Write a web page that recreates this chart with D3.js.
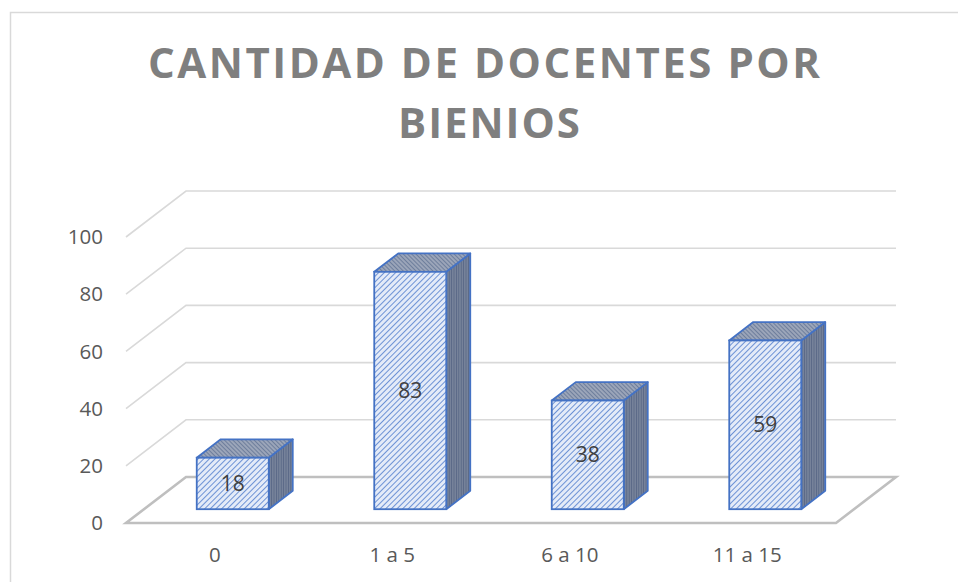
<!DOCTYPE html>
<html lang="es">
<head>
<meta charset="UTF-8">
<title>Cantidad de docentes por bienios</title>
<script src="https://cdn.jsdelivr.net/npm/d3@7"></script>
<style>
  body { margin: 0; background: #fff; }
  text { font-family: "Open Sans", sans-serif; }
</style>
</head>
<body>
<svg id="chart" width="958" height="582"></svg>
<script>
// data
var categories = ["0", "1 a 5", "6 a 10", "11 a 15"];
var values = [18, 83, 38, 59];
var yTicks = [0, 20, 40, 60, 80, 100];
var titleLines = ["CANTIDAD DE DOCENTES POR", "BIENIOS"];

var svg = d3.select("#chart");

// front plane of the 3d box
var x = d3.scaleBand().domain(categories).range([126, 836]);
var y = d3.scaleLinear().domain([0, 100]).range([523, 237]);

// full depth of the floor, in px
var depthX = 60, depthY = -46;
function shift(f) { return [depthX * f, depthY * f]; }

var barW = 72;
var barFront = 0.3, barBack = 0.7;

// patterns for the bar faces
var defs = svg.append("defs");
function stripes(id, bg, fg, size, w, angle) {
  var p = defs.append("pattern")
      .attr("id", id)
      .attr("patternUnits", "userSpaceOnUse")
      .attr("width", size).attr("height", size)
      .attr("patternTransform", "rotate(" + angle + ")");
  p.append("rect").attr("width", size).attr("height", size).attr("fill", bg);
  p.append("line").attr("x1", 0).attr("y1", 0).attr("x2", 0).attr("y2", size)
      .attr("stroke", fg).attr("stroke-width", w);
}
stripes("frontPat", "#e4ebf8", "#4f7bcc", 4, 1.6, 45);
stripes("topPat", "#9ba5b9", "#56688c", 3, 1.3, -45);
stripes("sidePat", "#76829a", "#4a5a7b", 2.4, 1.1, 0);

// outer frame
svg.append("rect")
    .attr("x", 10.5).attr("y", 12.5)
    .attr("width", 1000).attr("height", 620)
    .attr("fill", "none")
    .attr("stroke", "#d9d9d9")
    .attr("stroke-width", 1.5);

// title
svg.selectAll(".title")
    .data(titleLines)
    .enter().append("text")
    .attr("class", "title")
    .attr("x", function(d, i) { return i == 0 ? 484 : 489; })
    .attr("y", function(d, i) { return 78 + i * 60; })
    .attr("text-anchor", "middle")
    .attr("textLength", function(d, i) { return i == 0 ? 672 : 182; })
    .attr("lengthAdjust", "spacing")
    .attr("fill", "#7f7f7f")
    .style("font-size", "42px")
    .style("font-weight", "700")
    .text(function(d) { return d; });

var x0 = x.range()[0], x1 = x.range()[1];
var back = shift(1);

// gridlines: left wall diagonal + back wall line
var grid = svg.append("g");
yTicks.filter(function(t) { return t > 0; }).forEach(function(t) {
  grid.append("polyline")
      .attr("points", [[x0, y(t)], [x0 + back[0], y(t) + back[1]], [x1 + back[0], y(t) + back[1]]].join(" "))
      .attr("fill", "none")
      .attr("stroke", "#d9d9d9")
      .attr("stroke-width", 1.6);
});

// floor
svg.append("polygon")
    .attr("points", [[x0, y(0)], [x1, y(0)], [x1 + back[0], y(0) + back[1]], [x0 + back[0], y(0) + back[1]]].join(" "))
    .attr("fill", "none")
    .attr("stroke", "#bfbfbf")
    .attr("stroke-width", 2.6)
    .attr("stroke-linejoin", "miter");

// y axis labels
svg.append("g").selectAll("text")
    .data(yTicks)
    .enter().append("text")
    .attr("x", 103)
    .attr("y", function(d) { return y(d); })
    .attr("dy", "0.35em")
    .attr("text-anchor", "end")
    .attr("fill", "#595959")
    .style("font-size", "20.5px")
    .text(function(d) { return d; });

// x axis labels
svg.append("g").selectAll("text")
    .data(categories)
    .enter().append("text")
    .attr("x", function(d) { return x(d) + x.bandwidth() / 2; })
    .attr("y", 555)
    .attr("dy", "0.35em")
    .attr("text-anchor", "middle")
    .attr("fill", "#595959")
    .style("font-size", "20.5px")
    .text(function(d) { return d; });

// bars
var bars = svg.append("g").selectAll("g")
    .data(categories.map(function(c, i) { return {cat: c, value: values[i]}; }))
    .enter().append("g");

bars.each(function(d) {
  var g = d3.select(this);
  var f = shift(barFront), b = shift(barBack);
  var lx = x(d.cat) + x.bandwidth() / 2 - barW / 2 + f[0];
  var rx = lx + barW;
  var by = y(0) + f[1];
  var ty = y(d.value) + f[1];
  var dx = b[0] - f[0], dy = b[1] - f[1];

  // side face
  g.append("polygon")
      .attr("points", [[rx, by], [rx + dx, by + dy], [rx + dx, ty + dy], [rx, ty]].join(" "))
      .attr("fill", "url(#sidePat)")
      .attr("stroke", "#4472c4").attr("stroke-width", 1.8).attr("stroke-linejoin", "round");
  // top face
  g.append("polygon")
      .attr("points", [[lx, ty], [rx, ty], [rx + dx, ty + dy], [lx + dx, ty + dy]].join(" "))
      .attr("fill", "url(#topPat)")
      .attr("stroke", "#4472c4").attr("stroke-width", 1.8).attr("stroke-linejoin", "round");
  // front face
  g.append("rect")
      .attr("x", lx).attr("y", ty)
      .attr("width", barW).attr("height", by - ty)
      .attr("fill", "url(#frontPat)")
      .attr("stroke", "#4472c4").attr("stroke-width", 1.8);
  // value label
  g.append("text")
      .attr("x", lx + barW / 2)
      .attr("y", (by + ty) / 2)
      .attr("dy", "0.35em")
      .attr("text-anchor", "middle")
      .attr("fill", "#404040")
      .style("font-size", "21px")
      .text(d.value);
});
</script>
</body>
</html>
